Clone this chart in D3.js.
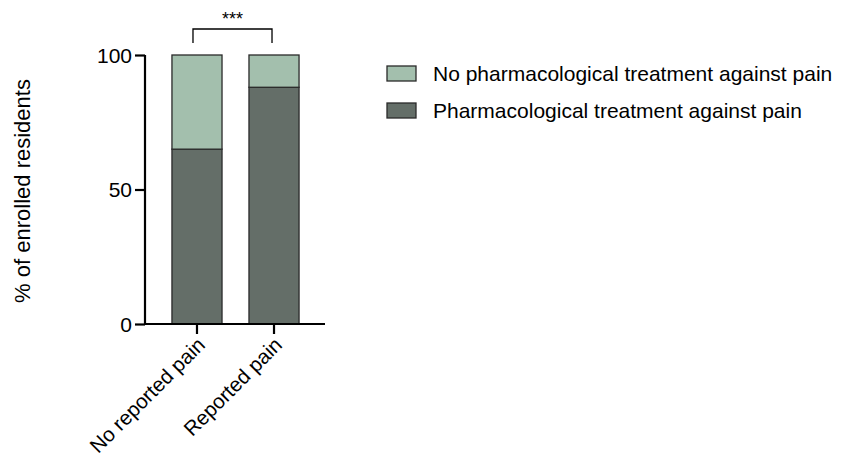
<!DOCTYPE html>
<html><head><meta charset="utf-8">
<script src="https://cdn.jsdelivr.net/npm/d3@7"></script>
<style>body{margin:0;background:#fff}svg{display:block}text{font-family:Arial,"Liberation Sans",sans-serif;fill:#000}</style>
</head><body><svg id="c" width="846" height="460"></svg>
<script>
const categories = ["No reported pain", "Reported pain"];
const seriesNames = ["Pharmacological treatment against pain", "No pharmacological treatment against pain"];
const treated = [65, 88];
const untreated = [35, 12];
const yTicks = [0, 50, 100];
const significance = "***";

const colors = {"Pharmacological treatment against pain": "#646e68", "No pharmacological treatment against pain": "#a3bfad"};
const svg = d3.select("#c");
const y = d3.scaleLinear().domain([0, 100]).range([324, 55]);
const x = d3.scaleBand().domain(categories).range([145, 326]).paddingInner(0.35).paddingOuter(0.35);

const data = categories.map((c, i) => ({cat: c, [seriesNames[0]]: treated[i], [seriesNames[1]]: untreated[i]}));
const stack = d3.stack().keys(seriesNames)(data);

svg.append("g").selectAll("g").data(stack).join("g")
  .attr("fill", d => colors[d.key])
  .selectAll("rect").data(d => d).join("rect")
  .attr("x", d => x(d.data.cat)).attr("width", x.bandwidth())
  .attr("y", d => y(d[1])).attr("height", d => y(d[0]) - y(d[1]))
  .attr("stroke", "#2a2a2a").attr("stroke-width", 1.3);

// y axis
const yAxis = svg.append("g").attr("transform", "translate(145,0)")
  .call(d3.axisLeft(y).tickValues(yTicks).tickSize(10).tickPadding(4));
yAxis.select(".domain").attr("stroke", "#000").attr("stroke-width", 2.2).attr("d", `M0,${y(100)}V${y(0)+1}`);
yAxis.selectAll(".tick line").attr("stroke", "#000").attr("stroke-width", 2.2);
yAxis.selectAll(".tick text").attr("font-size", 21).attr("font-family", "Arial, Liberation Sans, sans-serif").attr("fill", "#000").attr("dy", "0.35em").attr("dx","1");

// x axis
const xAxis = svg.append("g").attr("transform", `translate(0,${y(0)})`)
  .call(d3.axisBottom(x).tickSize(10).tickFormat(""));
xAxis.select(".domain").attr("stroke", "#000").attr("stroke-width", 2.2).attr("d", "M144,0H325");
xAxis.selectAll(".tick line").attr("stroke", "#000").attr("stroke-width", 2.2);
xAxis.selectAll(".tick").append("text")
  .attr("transform", "translate(-1,12) rotate(-45)")
  .attr("text-anchor", "end").attr("font-size", 20.5).attr("dy", "0.71em")
  .attr("font-family", "Arial, Liberation Sans, sans-serif").attr("fill", "#000")
  .text(d => d);

// y title
svg.append("text").attr("transform", "translate(30,191) rotate(-90)")
  .attr("text-anchor", "middle").attr("font-size", 22).text("% of enrolled residents");

// significance bracket
const bx1 = x(categories[0]) + x.bandwidth()/2 - 4, bx2 = x(categories[1]) + x.bandwidth()/2 - 2;
svg.append("path").attr("d", `M${bx1},43V29H${bx2}V43`).attr("fill", "none").attr("stroke", "#000").attr("stroke-width", 1.3);
svg.append("text").attr("x", (bx1+bx2)/2).attr("y", 25).attr("text-anchor", "middle").attr("font-size", 18).text(significance);

// legend
const legendOrder = [seriesNames[1], seriesNames[0]];
const lg = svg.append("g").selectAll("g").data(legendOrder).join("g")
  .attr("transform", (d, i) => `translate(387,${66 + i*37})`);
lg.append("rect").attr("width", 29).attr("height", 15).attr("fill", d => colors[d]).attr("stroke", "#2a2a2a").attr("stroke-width", 1.3);
lg.append("text").attr("x", 46).attr("y", 8).attr("dy", "0.35em").attr("font-size", 21).text(d => d);
</script></body></html>
